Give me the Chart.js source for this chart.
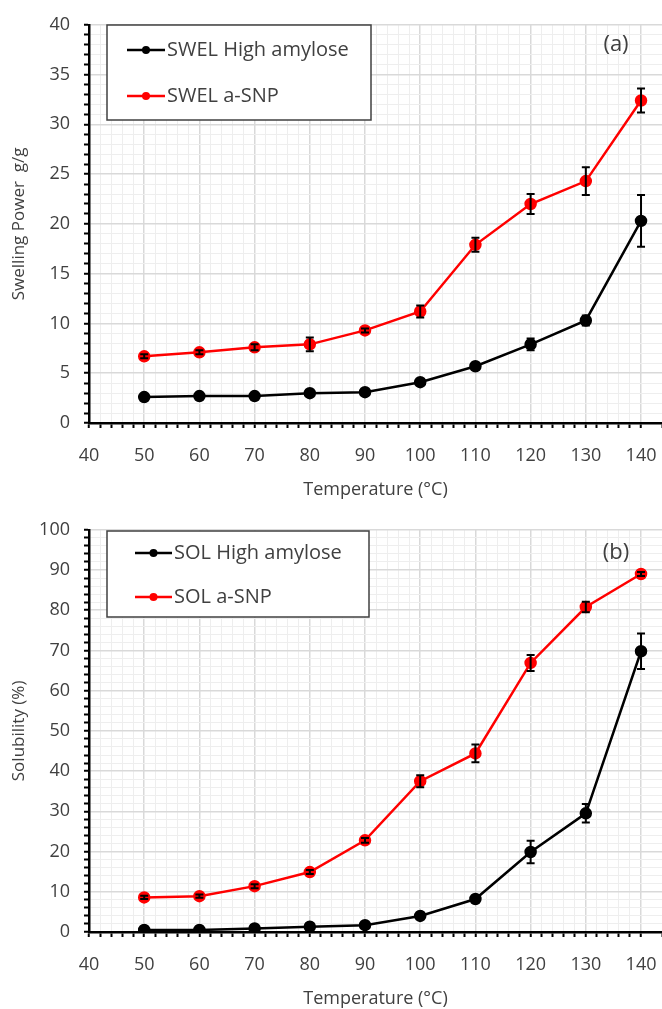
<!DOCTYPE html>
<html>
<head>
<meta charset="utf-8">
<script src="https://cdn.jsdelivr.net/npm/chart.js@4"></script>
<style>
  body { margin: 0; background: #fff; }
  canvas { display: block; }
</style>
</head>
<body>
<canvas id="chartA" width="662" height="505"></canvas>
<canvas id="chartB" width="662" height="504"></canvas>
<script>
// DATA
const temps = [50, 60, 70, 80, 90, 100, 110, 120, 130, 140];

const swelHigh    = [2.6, 2.7, 2.7, 3.0, 3.1, 4.1, 5.7, 7.9, 10.3, 20.3];
const swelHighErr = [0.2, 0.2, 0.2, 0.3, 0.2, 0.3, 0.3, 0.6, 0.5, 2.6];
const swelSnp     = [6.7, 7.1, 7.6, 7.9, 9.3, 11.2, 17.9, 22.0, 24.3, 32.4];
const swelSnpErr  = [0.2, 0.2, 0.3, 0.7, 0.2, 0.6, 0.7, 1.0, 1.4, 1.2];

const solHigh     = [0.5, 0.5, 0.9, 1.3, 1.7, 4.0, 8.2, 19.9, 29.5, 69.8];
const solHighErr  = [0.3, 0.3, 0.3, 0.3, 0.3, 0.5, 0.6, 2.8, 2.3, 4.4];
const solSnp      = [8.6, 8.9, 11.4, 14.9, 22.8, 37.5, 44.4, 66.9, 80.8, 89.0];
const solSnpErr   = [0.4, 0.4, 0.5, 0.5, 0.6, 1.5, 2.2, 2.0, 1.3, 0.5];

const FONT = "'Open Sans', sans-serif";
const TXT = '#404040';

function pts(ys) {
    return temps.map(function(t, i) { return {x: t, y: ys[i]}; });
}

// error bars + boxed legend + panel letter
const extrasPlugin = {
    id: 'extras',
    afterDatasetsDraw: function(chart, args, opts) {
        const ctx = chart.ctx;
        const xs = chart.scales.x, ys = chart.scales.y;
        ctx.save();
        chart.data.datasets.forEach(function(ds) {
            if (!ds.errors) return;
            ctx.strokeStyle = '#000';
            ctx.lineWidth = 2;
            ds.data.forEach(function(p, i) {
                const e = ds.errors[i];
                const px = xs.getPixelForValue(p.x);
                const y1 = ys.getPixelForValue(p.y - e);
                const y2 = ys.getPixelForValue(p.y + e);
                ctx.beginPath();
                ctx.moveTo(px, y1); ctx.lineTo(px, y2);
                ctx.moveTo(px - 4, y1); ctx.lineTo(px + 4, y1);
                ctx.moveTo(px - 4, y2); ctx.lineTo(px + 4, y2);
                ctx.stroke();
            });
        });

        // legend box
        const b = opts.box;
        ctx.fillStyle = '#fff';
        ctx.fillRect(b.x, b.y, b.w, b.h);
        ctx.strokeStyle = '#404040';
        ctx.lineWidth = 1.5;
        ctx.strokeRect(b.x, b.y, b.w, b.h);
        chart.data.datasets.forEach(function(ds, i) {
            const ry = b.y + b.row0 + i * b.rowGap;
            ctx.strokeStyle = ds.borderColor;
            ctx.lineWidth = 2.5;
            ctx.beginPath();
            ctx.moveTo(b.x + b.lineX0, ry);
            ctx.lineTo(b.x + b.lineX1, ry);
            ctx.stroke();
            ctx.fillStyle = ds.borderColor;
            ctx.beginPath();
            ctx.arc(b.x + (b.lineX0 + b.lineX1) / 2, ry, 4, 0, Math.PI * 2);
            ctx.fill();
            ctx.fillStyle = TXT;
            ctx.font = '20px ' + FONT;
            ctx.textBaseline = 'middle';
            ctx.textAlign = 'left';
            ctx.fillText(ds.label, b.x + b.lineX1 + 2, ry);
        });

        ctx.fillStyle = TXT;
        ctx.font = '22px ' + FONT;
        ctx.textAlign = 'center';
        ctx.textBaseline = 'middle';
        ctx.fillText(opts.tag.text, opts.tag.x, opts.tag.y);
        ctx.restore();
    }
};

function makeChart(id, cfg) {
    return new Chart(document.getElementById(id), {
        type: 'line',
        data: {
            datasets: [{
                label: cfg.labels[0],
                data: pts(cfg.high),
                errors: cfg.highErr,
                borderColor: '#000000',
                backgroundColor: '#000000',
                borderWidth: 2.5,
                pointRadius: 5,
                tension: 0
            }, {
                label: cfg.labels[1],
                data: pts(cfg.snp),
                errors: cfg.snpErr,
                borderColor: '#ff0000',
                backgroundColor: '#ff0000',
                borderWidth: 2.5,
                pointRadius: 5,
                tension: 0
            }]
        },
        options: {
            responsive: false,
            animation: false,
            layout: { autoPadding: false, padding: { top: cfg.padTop, right: 0, left: 0, bottom: cfg.padBottom } },
            plugins: {
                legend: { display: false },
                tooltip: { enabled: false },
                extras: { box: cfg.box, tag: cfg.tag }
            },
            scales: {
                x: {
                    type: 'linear',
                    min: 40,
                    max: 143.8,
                    afterFit: function(s) {
                        s.height = cfg.xHeight;
                        s.paddingRight = 0;   // let the axis run to the right edge
                    },
                    ticks: {
                        stepSize: 2,
                        autoSkip: false,
                        maxRotation: 0,
                        padding: 17,
                        color: TXT,
                        font: { family: FONT, size: 18 },
                        callback: function(v) { return Math.round(v) % 10 === 0 ? Math.round(v) : ''; }
                    },
                    grid: {
                        color: function(c) { return Math.round(c.tick.value) % 10 === 0 ? '#d9d9d9' : '#eeeeee'; },
                        lineWidth: function(c) { return Math.round(c.tick.value) % 10 === 0 ? 1.5 : 1; },
                        tickColor: '#000',
                        tickLength: 5,
                        tickWidth: 2
                    },
                    border: { color: '#000', width: 2.5 },
                    title: {
                        display: true,
                        text: 'Temperature (\u00B0C)',
                        color: TXT,
                        font: { family: FONT, size: 18 },
                        padding: { top: 4 }
                    }
                },
                y: {
                    min: 0,
                    max: cfg.yMax,
                    afterFit: function(s) { s.width = 89; },
                    ticks: {
                        stepSize: cfg.yStep,
                        autoSkip: false,
                        padding: 14,
                        color: TXT,
                        font: { family: FONT, size: 18 },
                        callback: function(v) { return Math.round(v) % cfg.yMajor === 0 ? Math.round(v) : ''; }
                    },
                    grid: {
                        color: function(c) { return Math.round(c.tick.value) % cfg.yMajor === 0 ? '#d9d9d9' : '#eeeeee'; },
                        lineWidth: function(c) { return Math.round(c.tick.value) % cfg.yMajor === 0 ? 1.5 : 1; },
                        tickColor: '#000',
                        tickLength: 5,
                        tickWidth: 2
                    },
                    border: { color: '#000', width: 2.5 },
                    title: {
                        display: true,
                        text: cfg.yTitle,
                        color: TXT,
                        font: { family: FONT, size: 17 },
                        padding: { top: 9, bottom: 0 }
                    }
                }
            }
        },
        plugins: [extrasPlugin]
    });
}

makeChart('chartA', {
    labels: ['SWEL High amylose', 'SWEL a-SNP'],
    high: swelHigh, highErr: swelHighErr,
    snp: swelSnp, snpErr: swelSnpErr,
    yMax: 40, yStep: 1, yMajor: 5,
    yTitle: 'Swelling Power  g/g',
    padTop: 20, padBottom: 0, xHeight: 82,
    box: { x: 107, y: 25, w: 264, h: 95, row0: 25, rowGap: 46, lineX0: 20, lineX1: 58 },
    tag: { text: '(a)', x: 616, y: 45 }
});

makeChart('chartB', {
    labels: ['SOL High amylose', 'SOL a-SNP'],
    high: solHigh, highErr: solHighErr,
    snp: solSnp, snpErr: solSnpErr,
    yMax: 100, yStep: 2, yMajor: 10,
    yTitle: 'Solubility (%)',
    padTop: 23, padBottom: -5, xHeight: 82,
    box: { x: 107, y: 26, w: 262, h: 86, row0: 22, rowGap: 44, lineX0: 28, lineX1: 65 },
    tag: { text: '(b)', x: 616, y: 48 }
});
</script>
</body>
</html>
